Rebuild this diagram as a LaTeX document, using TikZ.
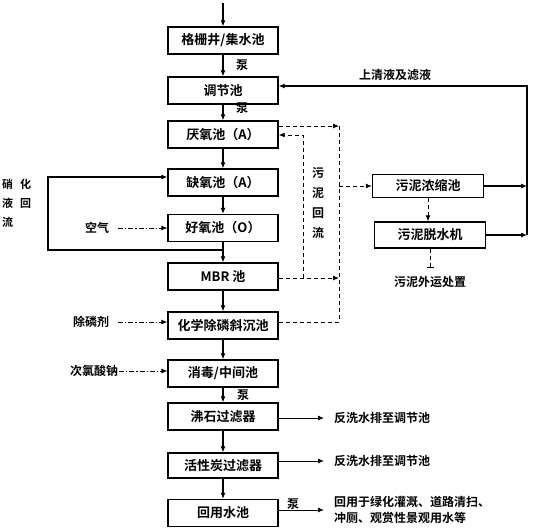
\documentclass[tikz,border=0pt]{standalone}
\usepackage{fontspec}
\setmainfont{Noto Sans CJK SC}[BoldFont={Noto Sans CJK SC Bold}]
\usetikzlibrary{arrows.meta}
\tikzset{
  box/.style={draw, line width=1.3pt, minimum width=110pt, minimum height=27pt, inner sep=0pt, font=\fontsize{13}{15}\selectfont\bfseries},
  sbox/.style={draw, line width=1.3pt, minimum width=111pt, minimum height=24pt, inner sep=0pt, font=\fontsize{13}{15}\selectfont\bfseries},
  lab/.style={font=\fontsize{12}{14}\selectfont\bfseries, inner sep=1pt},
  arr/.style={line width=1.1pt, -{Latex[length=6pt,width=5pt]}},
  dln/.style={line width=0.9pt, dash pattern=on 4pt off 3pt},
  darr/.style={dln, -{Latex[length=6pt,width=5pt]}},
  ddarr/.style={line width=0.8pt, dash pattern=on 5pt off 2pt on 1.2pt off 2pt, -{Latex[length=6pt,width=5pt]}}
}
\begin{document}
\begin{tikzpicture}[x=1pt,y=-1pt]
\useasboundingbox (0,0) rectangle (534,531);
% main column
\node[box] (b1) at (223,40.5) {格栅井/集水池};
\node[box] (b2) at (223,90.5) {调节池};
\node[box] (b3) at (223,134.5) {厌氧池（A）};
\node[box] (b4) at (223,182.5) {缺氧池（A）};
\node[box] (b5) at (223,228) {好氧池（O）};
\node[box] (b6) at (223,276.5) {MBR 池};
\node[box] (b7) at (223,325.5) {化学除磷斜沉池};
\node[box] (b8) at (223,373.5) {消毒/中间池};
\node[box] (b9) at (223,416.5) {沸石过滤器};
\node[box, minimum height=25pt] (b10) at (223,465.5) {活性炭过滤器};
\node[box] (b11) at (223,513) {回用水池};
\coordinate (top) at (223,3);
\draw[arr] (top) -- (b1);
\draw[arr] (b1) -- (b2);
\draw[arr] (b2) -- (b3);
\draw[arr] (b3) -- (b4);
\draw[arr] (b4) -- (b5);
\draw[arr] (b5) -- (b6);
\draw[arr] (b6) -- (b7);
\draw[arr] (b7) -- (b8);
\draw[arr] (b8) -- (b9);
\draw[arr] (b9) -- (b10);
\draw[arr] (b10) -- (b11);
\node[lab] (p1) at (242,65) {泵};
\node[lab] (p2) at (242,108) {泵};
\node[lab] (p3) at (243,395) {泵};
\node[lab] (p4) at (293,504) {泵};
% sludge boxes
\node[sbox, minimum height=23pt] (n1) at (428,186) {污泥浓缩池};
\node[sbox, minimum height=26pt] (n2) at (430,235) {污泥脱水机};
\node[lab] (n3) at (430,282) {污泥外运处置};
\coordinate (rt1) at (527,186);
\coordinate (rt2) at (527,235);
\draw[arr] (n1.east) -- (rt1);
\draw[arr] (n2.east) -- (rt2);
\draw[arr] (rt2) -- (527,86) -- (b2.east |- 0,86);
\node[lab] (sq) at (395,75) {上清液及滤液};
\draw[darr] (n1.south) -- (n2.north -| n1.south);
\coordinate (out) at (430,268);
\draw[dln, -{Bar[width=7pt]}] (n2.south) -- (out);
% sludge return (dashed)
\coordinate (c1) at (339,126);
\coordinate (c2) at (339,322);
\coordinate (c3) at (339,278);
\draw[darr] (b3.east |- 0,126) -- (c1);
\draw[dln] (c1) -- (c2);
\draw[dln] (b7.east |- 0,322) -- (c2);
\draw[darr] (b6.east |- 0,278) -- (c3);
\draw[darr] (339,186) -- (n1.west);
\draw[darr] (303,278) -- (303,135) -- (b3.east |- 0,135);
\node[lab, align=center, font=\fontsize{12}{20}\selectfont\bfseries] (hl) at (318,203) {污\\泥\\回\\流};
% nitrification return
\coordinate (j1) at (b5.south |- 0,250);
\draw[arr] (j1) -- (48,250) -- (48,177) -- (b4.west |- 0,177);
\node[lab, align=left, anchor=west, font=\fontsize{11}{19}\selectfont\bfseries] (nx) at (1,203) {硝\hspace{7pt}化\\液\hspace{7pt}回\\流};
% dosing
\node[lab] (air) at (97,228) {空气};
\draw[ddarr] (air.east) ++(8,0) -- (b5.west);
\node[lab] (pr) at (91,322) {除磷剂};
\draw[ddarr] (pr.east) ++(8,0) -- (b7.west |- 0,322);
\node[lab] (na) at (94,371) {次氯酸钠};
\draw[ddarr] (na.east) -- (b8.west |- 0,371);
% outputs
\node[lab, anchor=west] (r1) at (333,418) {反洗水排至调节池};
\node[lab, anchor=west] (r2) at (333,461) {反洗水排至调节池};
\node[lab, anchor=west, align=left, font=\fontsize{12}{16}\selectfont\bfseries] (r3) at (333,510) {回用于绿化灌溉、道路清扫、\\冲厕、观赏性景观用水等};
\draw[arr, line width=0.9pt, shorten >=9pt] (b9.east |- 0,418) -- (r1.west);
\draw[arr, line width=0.9pt, shorten >=9pt] (b10.east |- 0,461) -- (r2.west);
\draw[arr, line width=0.9pt, shorten >=9pt] (b11.east |- 0,510) -- (r3.west);
\end{tikzpicture}
\end{document}
